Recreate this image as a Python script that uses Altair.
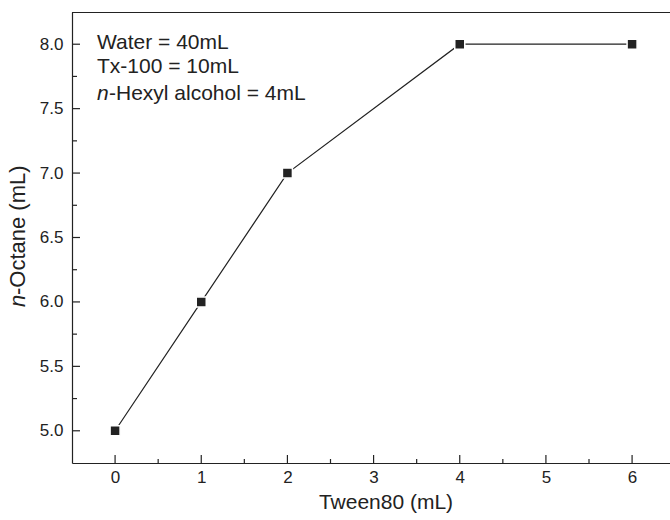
import altair as alt
import pandas as pd

# data
tween80 = [0, 1, 2, 4, 6]
octane = [5.0, 6.0, 7.0, 8.0, 8.0]

x_major = [0, 1, 2, 3, 4, 5, 6]
x_minor = [0.5, 1.5, 2.5, 3.5, 4.5, 5.5]
y_major = [5.0, 5.5, 6.0, 6.5, 7.0, 7.5, 8.0]
y_minor = [5.25, 5.75, 6.25, 6.75, 7.25, 7.75]

notes = ["Water = 40mL", "Tx-100 = 10mL"]
note3_italic = "n"
note3_rest = "-Hexyl alcohol = 4mL"
x_title = "Tween80 (mL)"
y_title_italic = "n"
y_title_rest = "-Octane (mL)"

W, H = 598, 451
INK = "#222222"
FONT = "Liberation Sans"

df = pd.DataFrame({"x": tween80, "y": octane})
xs = alt.Scale(domain=[-0.5, 6.44], nice=False, zero=False)
ys = alt.Scale(domain=[4.75, 8.25], nice=False, zero=False)

xaxis = alt.Axis(
    values=x_major, format="d", ticks=False, tickSize=0, grid=False,
    domainColor=INK, domainWidth=1.2, labelFontSize=17, labelColor=INK,
    labelFont=FONT, labelPadding=6, title=None)
yaxis = alt.Axis(
    values=y_major, format=".1f", ticks=False, tickSize=0, grid=False,
    domainColor=INK, domainWidth=1.2, labelFontSize=17, labelColor=INK,
    labelFont=FONT, labelPadding=9, title=None)

line = alt.Chart(df).mark_line(color=INK, strokeWidth=1.2).encode(
    x=alt.X("x:Q", scale=xs, axis=xaxis),
    y=alt.Y("y:Q", scale=ys, axis=yaxis),
)

pts = alt.Chart(df).mark_square(size=100, color=INK, filled=True, opacity=1,
                                stroke="white", strokeWidth=1.5).encode(
    x=alt.X("x:Q", scale=xs, axis=xaxis),
    y=alt.Y("y:Q", scale=ys, axis=yaxis),
)

def xticks(vals, length):
    return alt.Chart(pd.DataFrame({"x": vals})).mark_rule(color=INK, strokeWidth=1.2).encode(
        x=alt.X("x:Q", scale=xs, axis=xaxis),
        y=alt.value(H), y2=alt.value(H - length))

def yticks(vals, length):
    return alt.Chart(pd.DataFrame({"y": vals})).mark_rule(color=INK, strokeWidth=1.2).encode(
        y=alt.Y("y:Q", scale=ys, axis=yaxis),
        x=alt.value(0), x2=alt.value(length))

top = alt.Chart(pd.DataFrame({"a": [0]})).mark_rule(color=INK, strokeWidth=1.2).encode(
    x=alt.value(0), x2=alt.value(W), y=alt.value(0.5))

def txt(s, x, y, size=21, italic=False, align="left", angle=0):
    kw = dict(text=s, font=FONT, fontSize=size, color=INK, align=align,
              baseline="alphabetic")
    if italic:
        kw["fontStyle"] = "italic"
    if angle:
        kw["angle"] = angle
    return alt.Chart(pd.DataFrame({"a": [0]})).mark_text(**kw).encode(
        x=alt.value(x), y=alt.value(y))

labels = [
    txt(notes[0], 25, 37),
    txt(notes[1], 25, 61),
    txt(note3_italic, 25, 88, italic=True),
    txt(note3_rest, 37, 88),
    txt(x_title, 314, 497, align="center"),
    txt(y_title_italic, -47, 295, size=22, italic=True, angle=270),
    txt(y_title_rest, -47, 283, size=22, angle=270),
]

chart = alt.layer(
    line, pts,
    xticks(x_major, 8), xticks(x_minor, 4),
    yticks(y_major, 8), yticks(y_minor, 5),
    top, *labels,
).properties(
    width=W, height=H,
    autosize=alt.AutoSizeParams(type="none"),
    padding={"left": 72, "top": 12, "right": 0, "bottom": 57},
    background="white",
).configure_view(stroke=None)

chart.save("out.html", embed_options={"renderer": "svg", "actions": False})
